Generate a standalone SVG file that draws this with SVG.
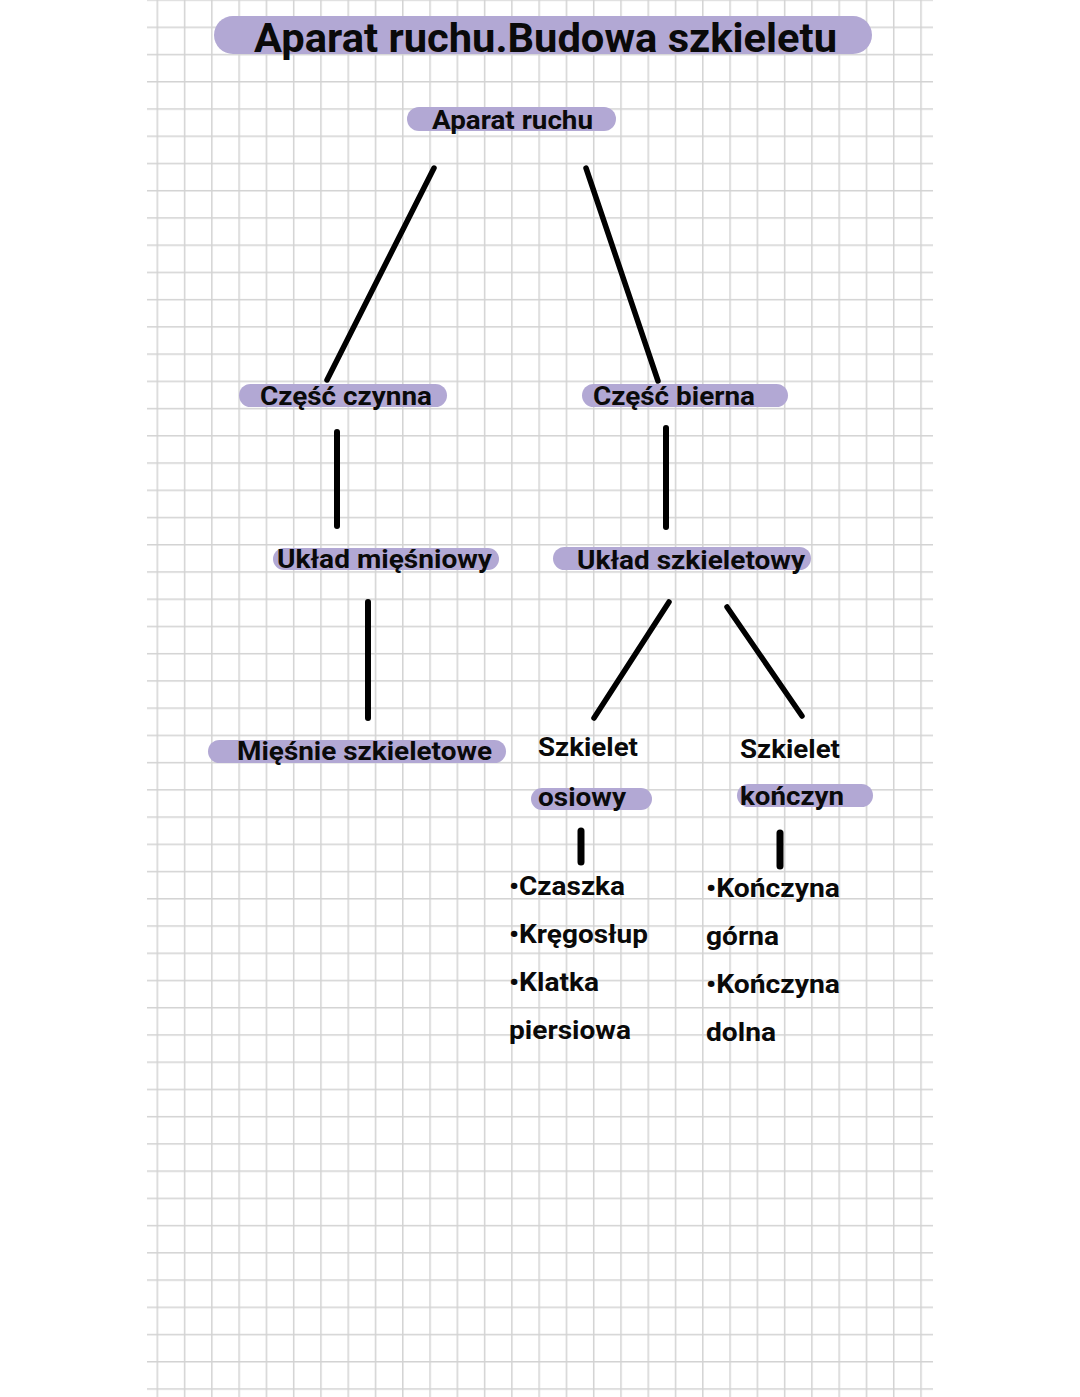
<svg xmlns="http://www.w3.org/2000/svg" width="1080" height="1397" viewBox="0 0 1080 1397">
<defs>
<pattern id="gv" patternUnits="userSpaceOnUse" x="156.55" y="0" width="27.275" height="1397"><rect x="0" y="0" width="1.5" height="1397" fill="#d3d3d3"/></pattern>
<pattern id="gh" patternUnits="userSpaceOnUse" x="0" y="26.55" width="1080" height="27.234"><rect x="0" y="0" width="1080" height="1.5" fill="#d3d3d3"/></pattern>
<style>
.pill{fill:#b2a8d4}
.t{font-family:Roboto,"Liberation Sans",sans-serif;font-weight:bold;fill:#0a0a0a}
.m{font-size:26px}
.c{stroke:#000;stroke-linecap:round;fill:none}
</style>
</defs>
<rect width="1080" height="1397" fill="#fff"/>
<g id="grid">
<rect x="147" y="0" width="786" height="1397" fill="url(#gh)"/>
<rect x="150" y="0" width="775" height="1397" fill="url(#gv)"/>
</g>
<g id="connectors">
<line class="c" stroke-width="5.5" x1="434" y1="168" x2="327" y2="380"/>
<line class="c" stroke-width="5.5" x1="586" y1="168" x2="658" y2="381"/>
<line class="c" stroke-width="6" x1="337" y1="432" x2="337" y2="526"/>
<line class="c" stroke-width="6" x1="666" y1="428" x2="666" y2="527"/>
<line class="c" stroke-width="6" x1="368" y1="602" x2="368" y2="718"/>
<line class="c" stroke-width="5.5" x1="669" y1="602" x2="594" y2="718"/>
<line class="c" stroke-width="5.5" x1="727" y1="607" x2="802" y2="716"/>
<line class="c" stroke-width="7" x1="581" y1="831" x2="581" y2="862"/>
<line class="c" stroke-width="7" x1="780" y1="833" x2="780" y2="866"/>
</g>
<g id="title">
<rect class="pill" x="214" y="16" width="658" height="38" rx="19"/>
<text class="t" x="254" y="52" font-size="41" textLength="583" lengthAdjust="spacingAndGlyphs">Aparat ruchu.Budowa szkieletu</text>
</g>
<g id="aparat">
<rect class="pill" x="407" y="107" width="209" height="24" rx="12"/>
<text class="t" x="432" y="129" font-size="25" textLength="161" lengthAdjust="spacingAndGlyphs">Aparat ruchu</text>
</g>
<g id="czynna">
<rect class="pill" x="239" y="384" width="208" height="23" rx="11.5"/>
<text class="t m" x="260" y="405" textLength="172" lengthAdjust="spacingAndGlyphs">Część czynna</text>
</g>
<g id="bierna">
<rect class="pill" x="582" y="384" width="206" height="23" rx="11.5"/>
<text class="t m" x="593" y="405" textLength="162" lengthAdjust="spacingAndGlyphs">Część bierna</text>
</g>
<g id="miesniowy">
<rect class="pill" x="273" y="548" width="226" height="22" rx="11"/>
<text class="t m" x="277" y="568" textLength="215" lengthAdjust="spacingAndGlyphs">Układ mięśniowy</text>
</g>
<g id="szkieletowy">
<rect class="pill" x="553" y="547" width="258" height="23" rx="11.5"/>
<text class="t m" x="577" y="569" textLength="228" lengthAdjust="spacingAndGlyphs">Układ szkieletowy</text>
</g>
<g id="miesnie">
<rect class="pill" x="208" y="740" width="298" height="23" rx="11.5"/>
<text class="t m" x="237" y="760" textLength="255" lengthAdjust="spacingAndGlyphs">Mięśnie szkieletowe</text>
</g>
<g id="osiowy">
<text class="t m" x="538" y="756" textLength="100" lengthAdjust="spacingAndGlyphs">Szkielet</text>
<rect class="pill" x="531" y="788" width="121" height="22" rx="11"/>
<text class="t m" x="538" y="806" textLength="88" lengthAdjust="spacingAndGlyphs">osiowy</text>
</g>
<g id="konczyn">
<text class="t m" x="740" y="758" textLength="100" lengthAdjust="spacingAndGlyphs">Szkielet</text>
<rect class="pill" x="737" y="784" width="136" height="23" rx="11.5"/>
<text class="t m" x="740" y="805" textLength="104" lengthAdjust="spacingAndGlyphs">kończyn</text>
</g>
<g id="list-osiowy">
<text class="t m" x="509" y="895" textLength="116" lengthAdjust="spacingAndGlyphs">•Czaszka</text>
<text class="t m" x="509" y="943" textLength="139" lengthAdjust="spacingAndGlyphs">•Kręgosłup</text>
<text class="t m" x="509" y="991" textLength="90" lengthAdjust="spacingAndGlyphs">•Klatka</text>
<text class="t m" x="509" y="1039" textLength="122" lengthAdjust="spacingAndGlyphs">piersiowa</text>
</g>
<g id="list-konczyn">
<text class="t m" x="706" y="897" textLength="134" lengthAdjust="spacingAndGlyphs">•Kończyna</text>
<text class="t m" x="706" y="945" textLength="73" lengthAdjust="spacingAndGlyphs">górna</text>
<text class="t m" x="706" y="993" textLength="134" lengthAdjust="spacingAndGlyphs">•Kończyna</text>
<text class="t m" x="706" y="1041" textLength="70" lengthAdjust="spacingAndGlyphs">dolna</text>
</g>
</svg>
